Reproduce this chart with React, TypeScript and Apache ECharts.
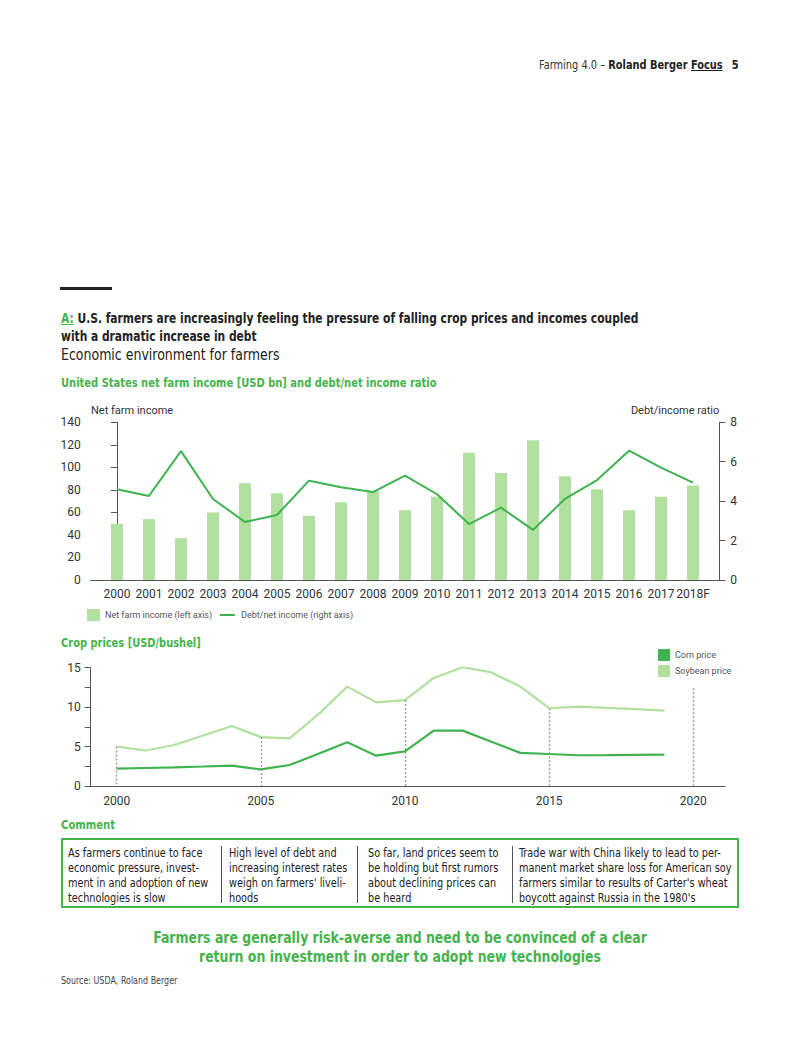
import React, { useEffect, useRef } from "react";
import * as echarts from "echarts";

// ---------- DATA ----------
const years = ["2000","2001","2002","2003","2004","2005","2006","2007","2008","2009","2010","2011","2012","2013","2014","2015","2016","2017","2018F"];
const netFarmIncome = [50, 54, 37, 60, 86, 77, 57, 69, 79, 62, 74, 113, 95, 124, 92, 80.5, 62, 74, 84];
const debtRatio = [4.6, 4.26, 6.54, 4.11, 2.94, 3.3, 5.04, 4.7, 4.46, 5.29, 4.35, 2.84, 3.67, 2.54, 4.12, 5.07, 6.56, 5.7, 4.94];

const priceYears = [2000,2001,2002,2003,2004,2005,2006,2007,2008,2009,2010,2011,2012,2013,2014,2015,2016,2017,2018,2019];
const cornPrice = [2.2, 2.28, 2.37, 2.47, 2.58, 2.1, 2.66, 4.1, 5.55, 3.85, 4.4, 7.02, 7.02, 5.6, 4.2, 4.06, 3.9, 3.92, 3.95, 3.97];
const soybeanPrice = [5.0, 4.5, 5.2, 6.4, 7.6, 6.2, 6.05, 9.1, 12.6, 10.6, 10.9, 13.7, 15.06, 14.4, 12.6, 9.86, 10.07, 9.9, 9.75, 9.56];

const guideYears = [2000, 2005, 2010, 2015, 2020];
const guideTops = [5.0, 6.2, 10.9, 9.86, 12.4];
const priceTickLabels = [2000, 2005, 2010, 2015, 2020];

const comments = [
  ["As farmers continue to face", "economic pressure, invest-", "ment in and adoption of new", "technologies is slow"],
  ["High level of debt and", "increasing interest rates", "weigh on farmers' liveli-", "hoods"],
  ["So far, land prices seem to", "be holding but first rumors", "about declining prices can", "be heard"],
  ["Trade war with China likely to lead to per-", "manent market share loss for American soy", "farmers similar to results of Carter's wheat", "boycott against Russia in the 1980's"],
];

// ---------- STYLE ----------
const GREEN_TXT = "#45b34b";
const CORN = "#3fb34f";
const LIGHT = "#b1e09f";
const AXIS = "#555555";
const LABEL = "#333333";
const CHART_FONT = "Roboto, 'Noto Sans', sans-serif";
const NARROW = "'Liberation Sans Narrow', 'DejaVu Sans Condensed', 'Roboto', sans-serif";

function Chart() {
  const ref = useRef<HTMLDivElement>(null);
  useEffect(() => {
    if (!ref.current) return;
    const chart = echarts.init(ref.current, null, { renderer: "svg" });
    const axisLine = { show: true, lineStyle: { color: AXIS, width: 1 } };
    const tickLabel = { color: LABEL, fontSize: 12, fontFamily: CHART_FONT };
    const legendText = { fill: "#555", fontSize: 9, fontFamily: CHART_FONT };
    const nameText = { fill: LABEL, fontSize: 11, fontFamily: CHART_FONT, verticalAlign: "middle" };
    const option: any = {
      animation: false,
      textStyle: { fontFamily: CHART_FONT },
      grid: [
        { left: 90.7, right: 80.7, top: 422.3, bottom: 480 },
        { left: 90.7, right: 75, top: 667.7, bottom: 274 },
      ],
      graphic: [
        { type: "text", x: 91, y: 410, style: { ...nameText, text: "Net farm income", align: "left" }, silent: true },
        { type: "text", x: 719.3, y: 410, style: { ...nameText, text: "Debt/income ratio", align: "right" }, silent: true },
        { type: "rect", left: 87, top: 609, shape: { width: 13, height: 12 }, style: { fill: LIGHT }, silent: true },
        { type: "text", x: 105, y: 615, style: { ...legendText, text: "Net farm income (left axis)", verticalAlign: "middle" }, silent: true },
        { type: "line", shape: { x1: 220, y1: 615, x2: 235, y2: 615 }, style: { stroke: CORN, lineWidth: 2 }, silent: true },
        { type: "text", x: 241, y: 615, style: { ...legendText, text: "Debt/net income (right axis)", verticalAlign: "middle" }, silent: true },
      ],
      legend: [
        {
          left: 658, top: 649, padding: 0, orient: "vertical", itemWidth: 12, itemHeight: 12, itemGap: 4,
          selectedMode: false,
          textStyle: { color: "#555", fontSize: 9, fontFamily: CHART_FONT },
          data: [
            { name: "Corn price", icon: "rect" },
            { name: "Soybean price", icon: "rect" },
          ],
        },
      ],
      xAxis: [
        {
          type: "value", gridIndex: 0, min: -0.82, max: 18.82,
          axisLine, axisTick: { show: false }, splitLine: { show: false },
          axisLabel: {
            ...tickLabel, margin: 8,
            customValues: years.map((_, i) => i),
            formatter: (v: number) => years[Math.round(v)] ?? "",
          },
        },
        {
          type: "value", gridIndex: 1, min: 1999.1, max: 2021.1,
          axisLine, axisTick: { show: false }, splitLine: { show: false },
          axisLabel: { ...tickLabel, margin: 9, customValues: priceTickLabels, formatter: (v: number) => String(v) },
        },
      ],
      yAxis: [
        {
          type: "value", gridIndex: 0, position: "left", min: 0, max: 140, interval: 20,
          axisLine, axisTick: { show: true, length: 6, lineStyle: { color: AXIS } },
          splitLine: { show: false }, axisLabel: { ...tickLabel, margin: 10 },
        },
        {
          type: "value", gridIndex: 0, position: "right", min: 0, max: 8, interval: 2,
          axisLine, axisTick: { show: true, length: 6, lineStyle: { color: AXIS } },
          splitLine: { show: false }, axisLabel: { ...tickLabel, margin: 11 },
        },
        {
          type: "value", gridIndex: 1, position: "left", min: 0, max: 15, interval: 2.5,
          axisLine, axisTick: { show: true, length: 6, lineStyle: { color: AXIS } },
          splitLine: { show: false },
          axisLabel: { ...tickLabel, margin: 10, formatter: (v: number) => (v % 5 === 0 ? String(v) : "") },
        },
      ],
      series: [
        {
          name: "Net farm income (left axis)", type: "bar", xAxisIndex: 0, yAxisIndex: 0,
          barWidth: 12, itemStyle: { color: LIGHT },
          data: netFarmIncome.map((v, i) => [i, v]),
        },
        {
          name: "Debt/net income (right axis)", type: "line", xAxisIndex: 0, yAxisIndex: 1,
          symbol: "none", lineStyle: { color: CORN, width: 2 }, itemStyle: { color: CORN },
          data: debtRatio.map((v, i) => [i, v]),
        },
        {
          name: "Soybean price", type: "line", xAxisIndex: 1, yAxisIndex: 2,
          symbol: "none", lineStyle: { color: LIGHT, width: 2.2 }, itemStyle: { color: LIGHT },
          data: priceYears.map((y, i) => [y, soybeanPrice[i]]),
          z: 3,
          markLine: {
            silent: true, symbol: "none", label: { show: false },
            lineStyle: { color: "#9a9a9a", type: [2, 2], width: 1.4 },
            data: guideYears.map((y, i) => [{ coord: [y, guideTops[i]] }, { coord: [y, 0] }]),
          },
        },
        {
          name: "Corn price", type: "line", xAxisIndex: 1, yAxisIndex: 2,
          symbol: "none", lineStyle: { color: CORN, width: 2.2 }, itemStyle: { color: CORN },
          data: priceYears.map((y, i) => [y, cornPrice[i]]),
          z: 4,
        },
      ],
    };
    chart.setOption(option);
    return () => chart.dispose();
  }, []);
  return <div ref={ref} style={{ position: "absolute", left: 0, top: 0, width: 800, height: 1060 }} />;
}

const abs = (s: React.CSSProperties, sx = 1, origin = "left top"): React.CSSProperties => ({
  position: "absolute", margin: 0, whiteSpace: "nowrap",
  transform: sx !== 1 ? `scaleX(${sx})` : undefined, transformOrigin: origin, ...s,
});

export default function App() {
  const colLeft = [68, 229, 368, 519];
  const seps = [221, 357, 512];
  return (
    <div style={{ position: "absolute", left: 0, top: 0, width: 800, height: 1060, background: "#fff", overflow: "hidden" }}>
      <Chart />
      <div style={{ position: "absolute", left: 0, top: 0, width: 800, height: 1060, pointerEvents: "none", fontFamily: NARROW, color: "#222" }}>
        <div style={abs({ right: 61, top: 57, fontSize: 13, lineHeight: "16px", color: "#333" }, 0.84, "right top")}>
          Farming 4.0 – <b style={{ color: "#222" }}>Roland Berger </b>
          <b style={{ color: "#222", textDecoration: "underline" }}>Focus</b>
          <b style={{ color: "#222", marginLeft: 11 }}>5</b>
        </div>
        <div style={abs({ left: 60, top: 287, width: 52, height: 3, background: "#222" })} />
        <div style={abs({ left: 61, top: 309, fontSize: 14, lineHeight: "18px", fontWeight: "bold", color: "#222" }, 0.849)}>
          <span style={{ color: GREEN_TXT, textDecoration: "underline" }}>A:</span> U.S. farmers are increasingly feeling the pressure of falling crop prices and incomes coupled
          <br />with a dramatic increase in debt
        </div>
        <div style={abs({ left: 61, top: 346, fontSize: 15, lineHeight: "18px", color: "#222" }, 0.93)}>
          Economic environment for farmers
        </div>
        <div style={abs({ left: 61, top: 375, fontSize: 13, lineHeight: "16px", fontWeight: "bold", color: GREEN_TXT }, 0.85)}>
          United States net farm income [USD bn] and debt/net income ratio
        </div>
        <div style={abs({ left: 61, top: 635, fontSize: 13, lineHeight: "16px", fontWeight: "bold", color: GREEN_TXT }, 0.845)}>
          Crop prices [USD/bushel]
        </div>
        <div style={abs({ left: 61, top: 817, fontSize: 13, lineHeight: "16px", fontWeight: "bold", color: GREEN_TXT }, 0.86)}>
          Comment
        </div>
        <div style={abs({ left: 61, top: 838, width: 678, height: 70, boxSizing: "border-box", border: `2px solid ${GREEN_TXT}` })} />
        {seps.map((x, i) => (
          <div key={"s" + i} style={abs({ left: x, top: 846, width: 1, height: 57, background: "#555" })} />
        ))}
        {comments.map((lines, i) => (
          <div key={"c" + i} style={abs({ left: colLeft[i], top: 845.5, fontSize: 12, lineHeight: "15.3px", color: "#222" }, 0.9)}>
            {lines.map((l, j) => (
              <div key={j}>{l}</div>
            ))}
          </div>
        ))}
        <div style={abs({ left: 0, width: 800, top: 927.5, textAlign: "center", fontSize: 16, lineHeight: "19px", fontWeight: "bold", color: GREEN_TXT }, 0.867, "center top")}>
          Farmers are generally risk-averse and need to be convinced of a clear
          <br />return on investment in order to adopt new technologies
        </div>
        <div style={abs({ left: 61, top: 975, fontSize: 10, lineHeight: "12px", color: "#444" }, 0.885)}>
          Source: USDA, Roland Berger
        </div>
      </div>
    </div>
  );
}
